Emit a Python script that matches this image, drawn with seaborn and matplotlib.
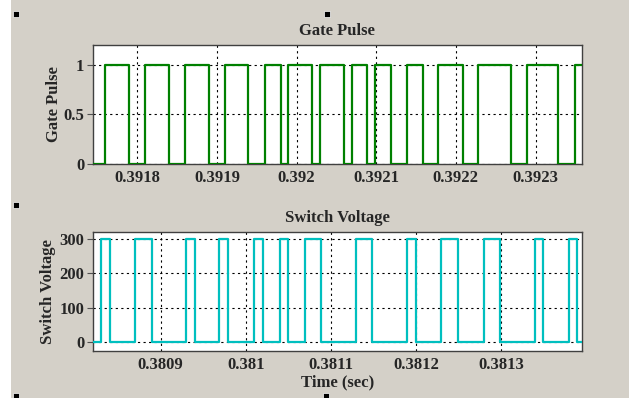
import numpy as np
import pandas as pd
import matplotlib
matplotlib.use("Agg")
import matplotlib.pyplot as plt
from matplotlib.patches import Rectangle
import seaborn as sns

# ---- data ----
gate_t = [0.391744, 0.391760, 0.391790, 0.391810, 0.391840, 0.391860, 0.391890,
          0.391910, 0.391939, 0.391960, 0.391980, 0.391989, 0.392019, 0.392030,
          0.392059, 0.392069, 0.392089, 0.392099, 0.392119, 0.392139, 0.392159,
          0.392178, 0.392209, 0.392228, 0.392269, 0.392289, 0.392328, 0.392349,
          0.392358]
gate_v = [0, 1, 0, 1, 0, 1, 0, 1, 0, 1, 0, 1, 0, 1, 0, 1, 0, 1, 0, 1, 0,
          1, 0, 1, 0, 1, 0, 1, 1]

volt_t = [0.380820, 0.380830, 0.380840, 0.380870, 0.380890, 0.380930, 0.380940,
          0.380969, 0.380979, 0.381010, 0.381020, 0.381040, 0.381050, 0.381070,
          0.381089, 0.381130, 0.381149, 0.381190, 0.381200, 0.381229, 0.381250,
          0.381280, 0.381299, 0.381340, 0.381349, 0.381380, 0.381389, 0.381395]
volt_v = [0, 300, 0, 300, 0, 300, 0, 300, 0, 300, 0, 300, 0, 300, 0, 300, 0,
          300, 0, 300, 0, 300, 0, 300, 0, 300, 0, 0]

gate_ticks = [0.3918, 0.3919, 0.3920, 0.3921, 0.3922, 0.3923]
gate_tick_labels = ["0.3918", "0.3919", "0.392", "0.3921", "0.3922", "0.3923"]
gate_yticks = [0, 0.5, 1]
gate_ytick_labels = ["0", "0.5", "1"]

volt_ticks = [0.3809, 0.3810, 0.3811, 0.3812, 0.3813]
volt_tick_labels = ["0.3809", "0.381", "0.3811", "0.3812", "0.3813"]
volt_yticks = [0, 100, 200, 300]
volt_ytick_labels = ["0", "100", "200", "300"]

gate_df = pd.DataFrame({"t": gate_t, "v": gate_v})
volt_df = pd.DataFrame({"t": volt_t, "v": volt_v})

# ---- style ----
sns.set_theme(style="white")
plt.rcParams["font.family"] = ["Liberation Serif", "DejaVu Serif"]
plt.rcParams["font.weight"] = "bold"

BG = "#d4d0c8"
W, H = 629, 398
fig = plt.figure(figsize=(W / 100, H / 100), dpi=100, facecolor=BG)

def frac_box(l, t, r, b):
    return [l / W, 1 - b / H, (r - l) / W, (b - t) / H]

ax1 = fig.add_axes(frac_box(92.7, 45, 581.7, 164))
ax2 = fig.add_axes(frac_box(92.7, 231.7, 581.7, 351))

sns.lineplot(data=gate_df, x="t", y="v", ax=ax1, color="#008000", lw=1.6,
             drawstyle="steps-post", estimator=None, sort=False, zorder=3)
sns.lineplot(data=volt_df, x="t", y="v", ax=ax2, color="#00bfbf", lw=1.6,
             drawstyle="steps-post", estimator=None, sort=False, zorder=3)

def style(ax, xlim, ylim, xt, xtl, yt, ytl, title, ylabel, ylab_x, xlabel=None):
    ax.set_facecolor("white")
    ax.set_xlim(*xlim)
    ax.set_ylim(*ylim)
    ax.set_xticks(xt)
    ax.set_xticklabels(xtl, fontsize=12, fontweight="bold")
    ax.set_yticks(yt)
    ax.set_yticklabels(ytl, fontsize=12, fontweight="bold")
    ax.tick_params(axis="x", length=0, pad=4)
    ax.tick_params(axis="y", length=4, width=0.8, color="#505050", pad=2,
                   direction="out", left=True)
    ax.grid(True, color="black", linestyle=(0, (2, 3)), linewidth=0.8)
    for s in ax.spines.values():
        s.set_color("#404040")
        s.set_linewidth(1.0)
    ax.set_title(title, fontsize=12, fontweight="bold", pad=7)
    ax.set_ylabel(ylabel, fontsize=12, fontweight="bold")
    ax.yaxis.set_label_coords(ylab_x, 0.5)
    if xlabel:
        ax.set_xlabel(xlabel, fontsize=12, fontweight="bold", labelpad=1)
    else:
        ax.set_xlabel("")

style(ax1, (gate_t[0], gate_t[-1]), (0, 1.2), gate_ticks, gate_tick_labels,
      gate_yticks, gate_ytick_labels, "Gate Pulse", "Gate Pulse", -0.063)
style(ax2, (volt_t[0], volt_t[-1]), (-25, 321), volt_ticks, volt_tick_labels,
      volt_yticks, volt_ytick_labels, "Switch Voltage", "Switch Voltage",
      -0.075, "Time (sec)")

# white strip on the left edge of the window
fig.patches.append(Rectangle((0, 0), 11 / W, 1, transform=fig.transFigure,
                             facecolor="white", edgecolor="none", zorder=0))

# selection handles
for (hx, hy) in [(13, 11), (324, 11), (13, 202), (13, 393), (323, 393)]:
    fig.patches.append(Rectangle((hx / W, 1 - (hy + 6) / H), 6 / W, 6 / H,
                                 transform=fig.transFigure, facecolor="black",
                                 edgecolor="white", linewidth=0.5, zorder=5))

fig.savefig("out.png", dpi=100, facecolor=BG)
